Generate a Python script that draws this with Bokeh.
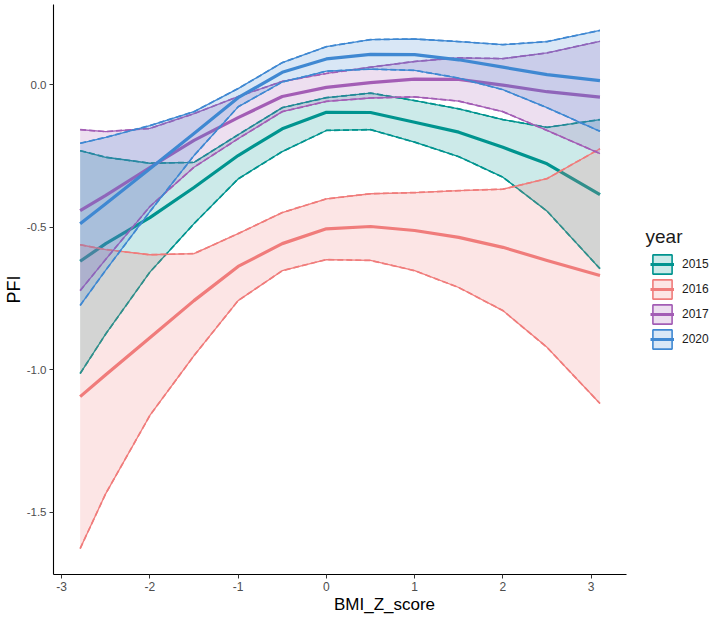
from bokeh.plotting import figure
from bokeh.models import Range1d, FixedTicker, Legend, LegendItem, ColumnDataSource, Label
from bokeh.embed import file_html
from bokeh.resources import INLINE

# BMI z-score positions at which the smoothed PFI fits are drawn
bmi_z = [-2.79, -2.5, -2.0, -1.5, -1.0, -0.5, 0.0, 0.5, 1.0, 1.5, 2.0, 2.5, 3.1]

years = ["2015", "2016", "2017", "2020"]

fit_2015 = [-0.619, -0.557, -0.466, -0.360, -0.248, -0.154, -0.096, -0.097, -0.131, -0.166, -0.219, -0.277, -0.385]
lo_2015 = [-1.013, -0.874, -0.657, -0.487, -0.330, -0.234, -0.160, -0.157, -0.201, -0.252, -0.324, -0.443, -0.645]
hi_2015 = [-0.231, -0.254, -0.275, -0.272, -0.175, -0.080, -0.045, -0.029, -0.055, -0.084, -0.122, -0.149, -0.122]

fit_2016 = [-1.094, -1.017, -0.887, -0.757, -0.637, -0.557, -0.505, -0.497, -0.511, -0.535, -0.570, -0.616, -0.669]
lo_2016 = [-1.627, -1.434, -1.160, -0.950, -0.757, -0.652, -0.613, -0.616, -0.652, -0.711, -0.792, -0.921, -1.118]
hi_2016 = [-0.561, -0.578, -0.596, -0.592, -0.522, -0.448, -0.400, -0.382, -0.378, -0.371, -0.366, -0.329, -0.224]

fit_2017 = [-0.441, -0.388, -0.290, -0.195, -0.115, -0.041, -0.009, 0.008, 0.020, 0.019, -0.001, -0.024, -0.043]
lo_2017 = [-0.722, -0.612, -0.427, -0.289, -0.189, -0.094, -0.058, -0.046, -0.042, -0.057, -0.094, -0.160, -0.241]
hi_2017 = [-0.157, -0.164, -0.153, -0.101, -0.041, 0.012, 0.040, 0.062, 0.082, 0.095, 0.092, 0.112, 0.153]

fit_2020 = [-0.487, -0.417, -0.294, -0.171, -0.045, 0.044, 0.091, 0.107, 0.106, 0.088, 0.062, 0.036, 0.015]
lo_2020 = [-0.774, -0.650, -0.445, -0.248, -0.077, 0.010, 0.048, 0.055, 0.051, 0.024, -0.017, -0.080, -0.163]
hi_2020 = [-0.205, -0.184, -0.143, -0.094, -0.013, 0.078, 0.134, 0.159, 0.161, 0.152, 0.141, 0.152, 0.191]

fits = [fit_2015, fit_2016, fit_2017, fit_2020]
lows = [lo_2015, lo_2016, lo_2017, lo_2020]
highs = [hi_2015, hi_2016, hi_2017, hi_2020]
colors = ["#00948F", "#F07C7B", "#A35DB5", "#3F88D2"]

x_ticks = [-3, -2, -1, 0, 1, 2, 3]
x_tick_labels = ["-3", "-2", "-1", "0", "1", "2", "3"]
y_ticks = [-1.5, -1.0, -0.5, 0.0]
y_tick_labels = ["-1.5", "-1.0", "-0.5", "0.0"]

FONT = "Liberation Sans"
NAN = float("nan")

# The frame runs to the right edge so the legend can sit beside the panel;
# the x axis line itself stops at the panel's own limit.
X_PANEL = (-3.092, 3.40)
p = figure(width=715, height=619, output_backend="svg", toolbar_location=None,
           x_range=Range1d(-3.092, 4.409), y_range=Range1d(-1.718, 0.282),
           min_border_left=53, min_border_right=0, min_border_top=4, min_border_bottom=45)

p.grid.visible = False
p.outline_line_color = None
p.background_fill_color = "white"
p.border_fill_color = "white"

legend_items = []
for year, fit, lo, hi, col in zip(years, fits, lows, highs, colors):
    src = ColumnDataSource(dict(x=bmi_z, fit=fit, lo=lo, hi=hi))
    p.varea(x="x", y1="lo", y2="hi", source=src, fill_color=col, fill_alpha=0.2)
    for edge in ("lo", "hi"):
        p.line(x="x", y=edge, source=src, line_color=col, line_width=1.3,
               line_join="round")
        p.line(x="x", y=edge, source=src, line_color=col, line_width=1.7,
               line_dash="6 3", line_join="round")
    p.line(x="x", y="fit", source=src, line_color=col, line_width=3.2,
           line_join="round")

    # legend keys: shaded box with the fit line across it (glyphs themselves not drawn)
    key_box = p.quad(left=[NAN], right=[NAN], top=[NAN], bottom=[NAN], fill_color=col,
                     fill_alpha=0.2, line_color=col, line_width=1.6)
    key_line = p.line(x=[NAN], y=[NAN], line_color=col, line_width=3)
    legend_items.append(LegendItem(label=year, renderers=[key_box, key_line]))

legend = Legend(items=legend_items, location=(597, 223),
                glyph_width=24, glyph_height=24, spacing=1, padding=0, margin=0,
                label_standoff=8, label_text_font=FONT, label_text_font_size="12px",
                label_text_color="#1a1a1a", border_line_color=None,
                background_fill_alpha=0)
p.add_layout(legend, "center")
p.add_layout(Label(x=592, y=338, x_units="screen", y_units="screen", text="year",
                   text_font=FONT, text_font_size="19px", text_baseline="middle",
                   text_color="#1a1a1a"))

for ax in (p.xaxis, p.yaxis):
    ax.axis_line_color = "black"
    ax.axis_line_width = 1.1
    ax.major_tick_line_color = "#333333"
    ax.major_tick_out = 4
    ax.major_tick_in = 0
    ax.minor_tick_line_color = None
    ax.major_label_text_font = FONT
    ax.major_label_text_color = "#4d4d4d"
    ax.axis_label_text_font = FONT
    ax.axis_label_text_font_style = "normal"
    ax.axis_label_text_color = "black"

p.xaxis.ticker = FixedTicker(ticks=x_ticks)
p.xaxis.bounds = X_PANEL
p.xaxis.major_label_overrides = {t: s for t, s in zip(x_ticks, x_tick_labels)}
p.xaxis.major_label_text_font_size = "12px"
p.xaxis.major_label_standoff = 3
p.xaxis.axis_label = "BMI_Z_score"
p.xaxis.axis_label_text_font_size = "17px"
p.xaxis.axis_label_standoff = 1

p.yaxis.ticker = FixedTicker(ticks=y_ticks)
p.yaxis.major_label_overrides = {t: s for t, s in zip(y_ticks, y_tick_labels)}
p.yaxis.major_label_text_font_size = "11.5px"
p.yaxis.major_label_standoff = 3
p.yaxis.axis_label = "PFI"
p.yaxis.axis_label_text_font_size = "18px"
p.yaxis.axis_label_standoff = 0

open("out.html", "w").write(file_html(p, INLINE))
